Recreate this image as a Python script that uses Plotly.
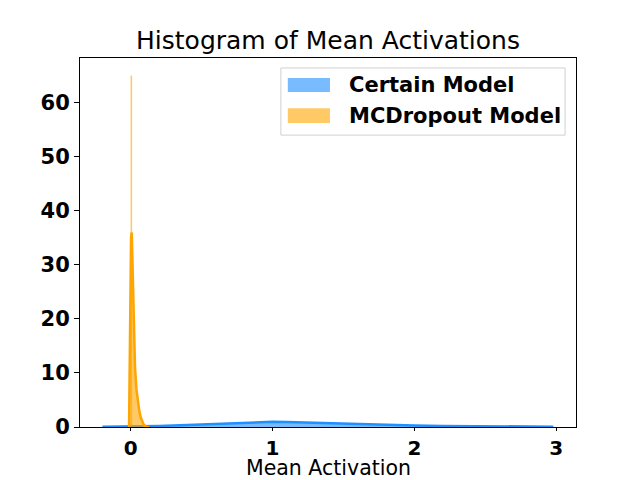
import plotly.graph_objects as go

# KDE of mean activations
certain_x = [-0.2, -0.1, 0.0, 0.1, 0.2, 0.3, 0.4, 0.5, 0.6, 0.7, 0.8, 0.9, 1.0,
             1.1, 1.2, 1.3, 1.4, 1.5, 1.6, 1.8, 2.0, 2.2, 2.4, 2.6, 2.8, 2.98]
certain_y = [0.04, 0.06, 0.09, 0.14, 0.2, 0.28, 0.38, 0.5, 0.63, 0.76, 0.87, 0.95, 0.97,
             0.93, 0.85, 0.75, 0.65, 0.56, 0.48, 0.36, 0.27, 0.2, 0.15, 0.11, 0.08, 0.06]

mcd_x = [-0.012, -0.006, -0.002, 0.002, 0.007, 0.012, 0.016, 0.02, 0.025, 0.03, 0.04,
         0.05, 0.06, 0.07, 0.08, 0.09, 0.1, 0.11, 0.13]
mcd_y = [0, 14, 28, 35, 36, 30, 24, 19, 14, 11, 7,
         4.5, 3, 1.8, 1.0, 0.5, 0.2, 0.05, 0]

# histogram spike of the MCDropout model (very narrow bin)
mcd_bin_x = [0.002]
mcd_bin_y = [65]
mcd_bin_w = 0.007

labels = ["Certain Model", "MCDropout Model"]
blue = "#1e90ff"
orange = "#ffa500"
blue_light = "rgba(30,144,255,0.6)"
orange_light = "rgba(255,165,0,0.6)"

fig = go.Figure()

fig.add_trace(go.Scatter(x=certain_x, y=certain_y, mode="lines", fill="tozeroy",
                         line=dict(color=blue, width=2.5), fillcolor=blue_light,
                         showlegend=False))
fig.add_trace(go.Bar(x=mcd_bin_x, y=mcd_bin_y, width=mcd_bin_w, marker_color=orange_light,
                     marker_line=dict(width=0.4, color=orange_light), showlegend=False))
fig.add_trace(go.Scatter(x=mcd_x, y=mcd_y, mode="lines", fill="tozeroy",
                         line=dict(color=orange, width=2.5), fillcolor=orange_light,
                         showlegend=False))

# legend drawn by hand to get matplotlib-like wide patches
fig.add_shape(type="rect", xref="paper", yref="paper", x0=0.405, x1=0.978, y0=0.791, y1=0.973,
              line=dict(color="#d0d0d0", width=1), fillcolor="rgba(255,255,255,0.8)")
patch_y = [(0.908, 0.946), (0.824, 0.864)]
for (y0, y1), col, lab in zip(patch_y, [blue_light, orange_light], labels):
    fig.add_shape(type="rect", xref="paper", yref="paper", x0=0.419, x1=0.504, y0=y0, y1=y1,
                  line_width=0, fillcolor=col)
    fig.add_annotation(text="<b>%s</b>" % lab, xref="paper", yref="paper", x=0.538, y=(y0 + y1) / 2,
                       xanchor="left", yanchor="middle", showarrow=False,
                       font=dict(size=21, color="black"))

# x axis title as an annotation so it sits where matplotlib puts it
fig.add_annotation(text="Mean Activation", xref="paper", yref="paper", x=0.5, y=-0.112,
                   xanchor="center", yanchor="middle", showarrow=False, font=dict(size=20.5))

# page body has an 8px margin, so the figure is 8px smaller each way
fig.update_layout(
    width=632, height=472,
    margin=dict(l=72, r=64, t=50, b=53),
    paper_bgcolor="white", plot_bgcolor="white",
    font=dict(family="DejaVu Sans", color="black"),
    title=dict(text="Histogram of Mean Activations", x=0.5, xref="paper", y=1 - 32 / 472,
               yanchor="middle", font=dict(size=25)),
    bargap=0,
)
fig.update_xaxes(range=[-0.358, 3.14], tickvals=[0, 1, 2, 3], ticktext=["<b>0</b>", "<b>1</b>", "<b>2</b>", "<b>3</b>"],
                 showline=True, mirror=True, linecolor="black", linewidth=1, automargin=False,
                 ticks="outside", ticklen=3, tickcolor="black", showgrid=False, zeroline=False,
                 tickfont=dict(size=20))
fig.update_yaxes(range=[0, 68.3], tickvals=[0, 10, 20, 30, 40, 50, 60],
                 ticktext=["<b>%d</b>" % v for v in [0, 10, 20, 30, 40, 50, 60]],
                 showline=True, mirror=True, linecolor="black", linewidth=1, automargin=False,
                 ticks="outside", ticklen=5, tickcolor="black", showgrid=False, zeroline=False,
                 tickfont=dict(size=21))

fig.write_html("out.html")
